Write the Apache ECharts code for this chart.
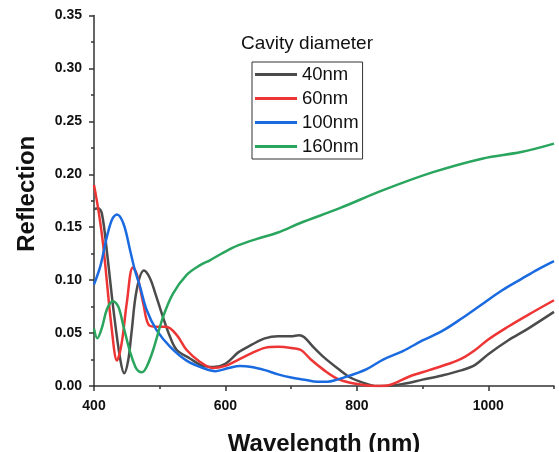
<!DOCTYPE html>
<html>
<head>
<meta charset="utf-8">
<script src="https://cdn.jsdelivr.net/npm/echarts@6/dist/echarts.min.js"></script>
<style>
  html, body { margin: 0; padding: 0; background: #fff; }
  #chart { width: 559px; height: 452px; }
</style>
</head>
<body>
<div id="chart"></div>
<script>
// wavelength (nm) and reflection, one pair of arrays per cavity size
var wl40 = [400, 406, 412, 420, 430, 440, 446, 452, 457, 465, 476, 485, 493, 505, 516, 526, 546, 566, 582, 600, 620, 640, 660, 680, 700, 712, 720, 735, 750, 770, 790, 810, 830, 845, 870, 900, 930, 960, 980, 1000, 1030, 1060, 1100];
var r40  = [0.167, 0.168, 0.163, 0.125, 0.070, 0.025, 0.012, 0.024, 0.050, 0.091, 0.109, 0.102, 0.088, 0.065, 0.046, 0.034, 0.026, 0.019, 0.018, 0.021, 0.032, 0.039, 0.045, 0.047, 0.047, 0.048, 0.046, 0.036, 0.027, 0.017, 0.008, 0.003, 0.000, 0.000, 0.002, 0.006, 0.010, 0.015, 0.020, 0.030, 0.043, 0.054, 0.070];

var wl60 = [400, 407, 414, 427, 435, 442, 450, 459, 465, 475, 483, 495, 510, 526, 541, 561, 580, 600, 620, 640, 660, 680, 700, 715, 730, 750, 770, 790, 810, 830, 850, 880, 910, 940, 960, 980, 1000, 1030, 1060, 1100];
var r60  = [0.190, 0.165, 0.133, 0.054, 0.024, 0.040, 0.079, 0.112, 0.106, 0.078, 0.058, 0.056, 0.056, 0.048, 0.034, 0.023, 0.017, 0.019, 0.025, 0.031, 0.036, 0.037, 0.036, 0.034, 0.025, 0.015, 0.007, 0.003, 0.001, 0.000, 0.001, 0.009, 0.015, 0.021, 0.026, 0.034, 0.044, 0.056, 0.067, 0.081];

var wl100 = [400, 410, 420, 428, 435, 445, 455, 462, 470, 480, 495, 516, 541, 566, 585, 605, 622, 640, 660, 680, 700, 720, 740, 755, 770, 790, 815, 840, 870, 900, 930, 960, 990, 1020, 1050, 1075, 1100];
var r100  = [0.096, 0.114, 0.142, 0.158, 0.162, 0.153, 0.128, 0.110, 0.094, 0.072, 0.053, 0.037, 0.024, 0.017, 0.014, 0.017, 0.019, 0.018, 0.015, 0.011, 0.008, 0.006, 0.004, 0.004, 0.006, 0.010, 0.016, 0.025, 0.033, 0.043, 0.052, 0.064, 0.077, 0.090, 0.101, 0.110, 0.118];

var wl160 = [400, 405, 412, 420, 429, 437, 445, 455, 463, 468, 473, 480, 490, 505, 520, 541, 561, 577, 597, 620, 648, 680, 714, 774, 840, 916, 992, 1050, 1100];
var r160  = [0.054, 0.045, 0.055, 0.073, 0.080, 0.075, 0.056, 0.032, 0.018, 0.014, 0.013, 0.018, 0.034, 0.065, 0.087, 0.105, 0.114, 0.119, 0.126, 0.133, 0.139, 0.145, 0.154, 0.168, 0.185, 0.202, 0.215, 0.221, 0.229];

var names  = ['40nm', '60nm', '100nm', '160nm'];
var colors = ['#4b4b4b', '#ee3535', '#1a6ae0', '#2aa55e'];
var xMajor = [400, 600, 800, 1000];
var xMinor = [500, 700, 900, 1100];

function pairs(xs, ys) {
  return xs.map(function (x, i) { return [x, ys[i]]; });
}

var chart = echarts.init(document.getElementById('chart'));
var font = 'Arial, "Liberation Sans", sans-serif';
var allX = [wl40, wl60, wl100, wl160];
var allY = [r40, r60, r100, r160];

var option = {
  animation: false,
  title: {
    text: 'Cavity diameter',
    left: 241, top: 34,
    padding: 0,
    textStyle: { fontFamily: font, fontSize: 19, fontWeight: 'normal', color: '#111' }
  },
  legend: {
    orient: 'vertical',
    left: 252, top: 62,
    padding: [3, 4, 3, 3],
    itemWidth: 42, itemHeight: 3, itemGap: 5,
    icon: 'rect',
    borderColor: '#333', borderWidth: 1,
    textStyle: { fontFamily: font, fontSize: 18.5, color: '#111' },
    data: names
  },
  grid: { left: 94, right: 5, top: 15.5, bottom: 66, outerBoundsMode: 'none' },
  xAxis: [{
    type: 'value', min: 400, max: 1100, interval: 100,
    name: 'Wavelength (nm)', nameLocation: 'middle', nameGap: 46,
    nameTextStyle: { fontFamily: font, fontSize: 24, fontWeight: 'bold', color: '#111' },
    axisLine: { lineStyle: { color: '#333', width: 1.5 } },
    axisTick: { customValues: xMajor, length: 5, lineStyle: { color: '#333', width: 1.5 } },
    axisLabel: {
      customValues: xMajor, margin: 13, fontFamily: font, fontSize: 14, fontWeight: 'bold', color: '#111',
      formatter: function (v) { return String(v); }
    },
    splitLine: { show: false }
  }, {
    type: 'value', min: 400, max: 1100, interval: 100, position: 'bottom', offset: 0,
    axisLine: { show: false },
    axisTick: { customValues: xMinor, length: 3, lineStyle: { color: '#333', width: 1.5 } },
    axisLabel: { show: false },
    splitLine: { show: false }
  }],
  yAxis: {
    type: 'value', min: 0, max: 0.35, interval: 0.05,
    name: 'Reflection', nameLocation: 'middle', nameGap: 55,
    nameTextStyle: { fontFamily: font, fontSize: 24, fontWeight: 'bold', color: '#111', padding: [0, 0, 0, 14] },
    axisLine: { show: true, lineStyle: { color: '#333', width: 1.5 } },
    axisTick: { show: true, length: 5, lineStyle: { color: '#333', width: 1.5 } },
    minorTick: { show: true, splitNumber: 2, length: 3, lineStyle: { color: '#333', width: 1.5 } },
    axisLabel: {
      margin: 12, fontFamily: font, fontSize: 14, fontWeight: 'bold', color: '#111',
      formatter: function (v) { return v.toFixed(2); }
    },
    splitLine: { show: false }
  },
  series: names.map(function (n, i) {
    return {
      name: n, type: 'line', xAxisIndex: 0,
      data: pairs(allX[i], allY[i]),
      smooth: 0.35, symbol: 'none',
      lineStyle: { color: colors[i], width: 2.5 },
      itemStyle: { color: colors[i] }
    };
  })
};

chart.setOption(option);
</script>
</body>
</html>
